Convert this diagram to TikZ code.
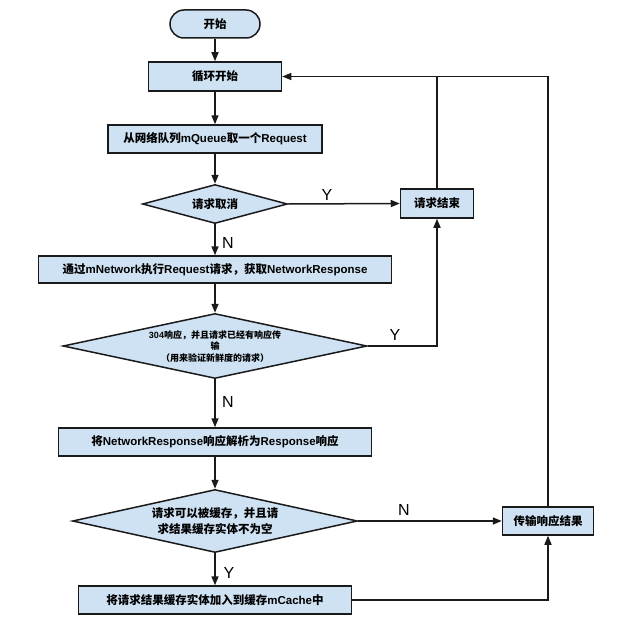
\documentclass[tikz,border=0pt]{standalone}
\usepackage{fontspec}
\newfontfamily\cjk{Noto Sans CJK SC}
\newfontfamily\lab{Liberation Sans}
\newcommand\la[1]{{\lab\bfseries #1}}
\usetikzlibrary{shapes.geometric,arrows.meta}
\definecolor{boxfill}{HTML}{CFE2F3}
\definecolor{edge}{HTML}{1A1A1A}
\begin{document}
\begin{tikzpicture}[x=1pt,y=-1pt,
  box/.style={draw=edge, fill=boxfill, line width=1.5pt, rectangle, inner sep=0pt,
    font=\cjk\bfseries\fontsize{11.5pt}{14pt}\selectfont},
  dia/.style={draw=edge, fill=boxfill, line width=1.5pt, diamond, inner sep=0pt},
  txt/.style={font=\cjk\bfseries\fontsize{11.5pt}{16pt}\selectfont, align=center, inner sep=0pt},
  small/.style={font=\cjk\bfseries\fontsize{9pt}{11.7pt}\selectfont, align=center, inner sep=0pt},
  yn/.style={font=\lab\fontsize{16pt}{19pt}\selectfont, inner sep=0pt},
  arr/.style={draw=edge, line width=1.5pt, -{Triangle[length=9pt,width=7pt]}},
  ln/.style={draw=edge, line width=1.5pt},
]
\useasboundingbox (0,0) rectangle (621,618);
\fill[white] (0,0) rectangle (621,618);

\node[box, minimum width=90pt, minimum height=28pt, rounded corners=14pt] (start) at (215,24) {开始};
\node[box, minimum width=133pt, minimum height=29pt] (loop) at (215,76.5) {循环开始};
\node[box, minimum width=214pt, minimum height=28pt] (take) at (215,139) {从网络队列\la{mQueue}取一个\la{Request}};
\node[dia, minimum width=145pt, minimum height=39pt] (cancel) at (215,204) {};
\node[txt] (canceltxt) at (cancel.center) {请求取消};
\node[box, minimum width=73pt, minimum height=29pt] (endn) at (437,203.5) {请求结束};
\node[box, minimum width=353pt, minimum height=27pt] (exec) at (215,269.5) {通过\la{mNetwork}执行\la{Request}请求，获取\la{NetworkResponse}};
\node[dia, minimum width=304pt, minimum height=65pt] (d304) at (215,346) {};
\node[small] (d304txt) at (215,346.5) {\la{304}响应，并且请求已经有响应传\\输\\（用来验证新鲜度的请求）};
\node[box, minimum width=313pt, minimum height=28pt] (parse) at (215,442) {将\la{NetworkResponse}响应解析为\la{Response}响应};
\node[dia, minimum width=285pt, minimum height=63pt] (dcache) at (215,521) {};
\node[txt] (dcachetxt) at (dcache.center) {请求可以被缓存，并且请\\求结果缓存实体不为空};
\node[box, minimum width=91pt, minimum height=28pt] (deliver) at (548,521) {传输响应结果};
\node[box, minimum width=273pt, minimum height=28pt] (put) at (215,600) {将请求结果缓存实体加入到缓存\la{mCache}中};

\draw[arr] (start) -- (loop);
\draw[arr] (loop) -- (take);
\draw[arr] (take) -- (cancel);
\draw[arr] (cancel) -- (exec);
\draw[arr] (cancel.east) -- (endn.west);
\draw[arr] (exec) -- (d304);
\draw[arr] (d304.east) -| (endn.south);
\draw[arr] (d304) -- (parse);
\draw[arr] (parse) -- (dcache);
\draw[arr] (dcache) -- (put);
\draw[arr] (dcache.east) -- (deliver.west);
\draw[arr] (put.east) -| (deliver.south);
\draw[arr] (deliver.north) |- (loop.east);
\coordinate (endtop) at (endn.north |- loop.east);
\draw[ln] (endn.north) -- (endtop);

\node[yn] (y1) at (327,195) {Y};
\node[yn] (n1) at (228,243) {N};
\node[yn] (y2) at (395,335) {Y};
\node[yn] (n2) at (228,402) {N};
\node[yn] (n3) at (404,510) {N};
\node[yn] (y3) at (229,573) {Y};
\end{tikzpicture}
\end{document}
